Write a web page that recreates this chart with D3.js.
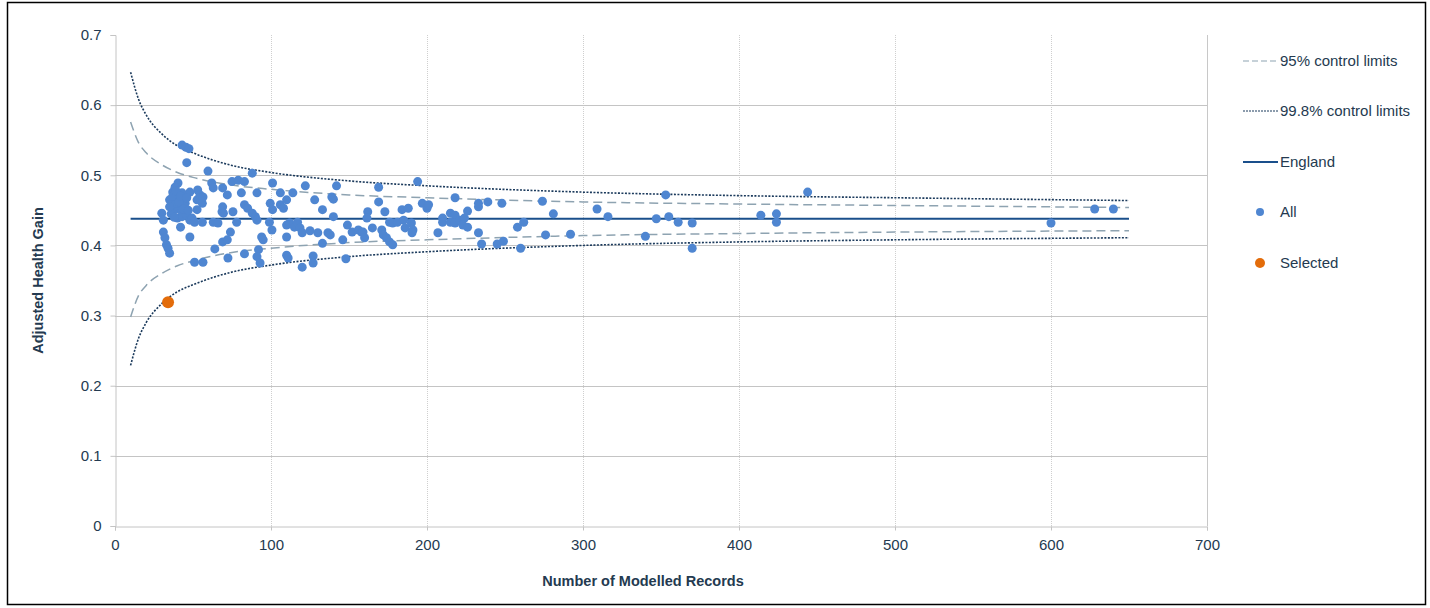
<!DOCTYPE html>
<html>
<head>
<meta charset="utf-8">
<script src="https://cdn.jsdelivr.net/npm/d3@7"></script>
<style>
  body { margin: 0; background: #fff; }
  text { font-family: "Liberation Sans", Arial, sans-serif; }
</style>
</head>
<body>
<script>

// Funnel plot data
var xTicks = [0, 100, 200, 300, 400, 500, 600, 700];
var yTicks = [0, 0.1, 0.2, 0.3, 0.4, 0.5, 0.6, 0.7];

var englandValue = 0.438;
var limitRecords = [10, 15, 20, 30, 40, 50, 75, 100, 150, 200, 300, 400, 500, 650];
var upper998 = [0.647, 0.609, 0.586, 0.559, 0.542, 0.532, 0.514, 0.504, 0.492, 0.485, 0.476, 0.471, 0.468, 0.464];
var upper95  = [0.576, 0.547, 0.532, 0.515, 0.504, 0.497, 0.486, 0.480, 0.472, 0.468, 0.462, 0.459, 0.457, 0.454];
var lower95  = [0.298, 0.328, 0.343, 0.360, 0.371, 0.378, 0.390, 0.396, 0.404, 0.408, 0.414, 0.417, 0.419, 0.421];
var lower998 = [0.229, 0.267, 0.290, 0.317, 0.334, 0.344, 0.362, 0.372, 0.384, 0.391, 0.400, 0.405, 0.408, 0.411];

// [records, adjusted health gain]
var allPoints = [
  [30, 0.446], [31, 0.436], [31, 0.419], [32, 0.411], [33, 0.401], [34, 0.396], [35, 0.389],
  [35, 0.465], [36.5, 0.453], [37, 0.476], [38.5, 0.451], [40, 0.469], [40, 0.439], [40.4, 0.489],
  [40.4, 0.455], [42, 0.426], [43, 0.475], [43, 0.448], [43, 0.441], [43, 0.543], [45.5, 0.540],
  [47.4, 0.538], [46, 0.518], [46, 0.443], [48, 0.476], [48, 0.412], [48, 0.436], [49.4, 0.439],
  [38.5, 0.483], [41.7, 0.465], [45, 0.460], [39, 0.460], [36, 0.445], [37, 0.470], [39, 0.478],
  [41, 0.462], [44, 0.452], [38, 0.440], [42, 0.470], [35, 0.455], [46, 0.468], [47, 0.450],
  [51, 0.433], [51, 0.376], [52.6, 0.465], [52.6, 0.451], [53, 0.479], [54.5, 0.472], [56, 0.460],
  [56, 0.433], [56.4, 0.469], [56.4, 0.376], [59.6, 0.506], [62, 0.489], [63, 0.482], [63, 0.433],
  [64, 0.395], [66, 0.432], [68.6, 0.448], [69, 0.482], [69, 0.455], [69.5, 0.446], [69, 0.405],
  [72, 0.472], [72, 0.408], [72.4, 0.382], [74, 0.419], [75.6, 0.448], [75, 0.491], [79, 0.493],
  [83, 0.491], [78, 0.433], [81, 0.475], [83, 0.458], [83, 0.388], [85, 0.453], [88, 0.503],
  [88, 0.446], [90, 0.441], [91, 0.475], [91, 0.436], [92, 0.394], [91, 0.384], [93, 0.375],
  [94, 0.412], [95, 0.408], [99, 0.433],
  [101, 0.489], [101, 0.451], [99.5, 0.460], [106, 0.458], [108, 0.453], [100.6, 0.422], [106, 0.475],
  [114, 0.475], [110, 0.465], [110, 0.429], [112, 0.432], [115, 0.426], [117, 0.433], [118.6, 0.425],
  [120, 0.418], [110, 0.412], [110, 0.386], [111, 0.382], [120, 0.369], [122, 0.485], [128, 0.465],
  [133, 0.451], [125, 0.421], [130, 0.418], [136.5, 0.418], [138, 0.415], [133, 0.403], [127, 0.385],
  [127, 0.375], [139, 0.469], [140, 0.466], [140, 0.441], [142, 0.485], [146, 0.408], [148, 0.381],
  [149, 0.429], [152, 0.419], [156, 0.422],
  [158, 0.419], [159, 0.419], [160, 0.411], [165, 0.425], [162, 0.448], [161.5, 0.439], [169, 0.483],
  [169, 0.462], [171, 0.422], [172, 0.415], [174, 0.411], [176, 0.405], [178, 0.401], [173, 0.448],
  [176, 0.433], [178, 0.432], [181, 0.433], [185, 0.436], [186, 0.425], [184, 0.451], [188, 0.453],
  [190, 0.432], [191, 0.422], [190.4, 0.418], [194, 0.491], [197, 0.460], [200, 0.453], [201, 0.458],
  [207, 0.418], [210, 0.439], [210, 0.433],
  [215, 0.446], [218, 0.443], [215, 0.433], [218, 0.432], [221, 0.436], [224, 0.439], [223, 0.429],
  [226, 0.426], [226, 0.449], [218, 0.468], [233, 0.455], [233, 0.460], [239, 0.462], [248, 0.460],
  [233, 0.418], [235, 0.402], [245, 0.402], [249, 0.406], [258, 0.426], [262, 0.433], [260, 0.396],
  [274, 0.463], [276, 0.415], [281, 0.445],
  [292, 0.416], [309, 0.452], [316, 0.441], [340, 0.413], [347, 0.438], [353, 0.472], [355, 0.441],
  [361, 0.433], [370, 0.432], [370, 0.396], [414, 0.443], [424, 0.445], [424, 0.433], [444, 0.476],
  [600, 0.432], [628, 0.452], [640, 0.452]
];
var selectedPoints = [[34, 0.319]];

var legendLabels = ["95% control limits", "99.8% control limits", "England", "All", "Selected"];

var textColor = "#243a50";
var pointColor = "#4f86d1";
var selectedColor = "#e36c0a";
var englandColor = "#1a4f8b";
var limit95Color = "#8ea3b1";
var limit998Color = "#1b3a5c";

function showFunnel() {

  var width = 1430, height = 608;
  var plot = {left: 115, right: 1207, top: 35, bottom: 526};

  var svg = d3.select("body").append("svg")
      .attr("width", width)
      .attr("height", height);

  // outer frame
  svg.append("rect")
      .attr("x", 7.5).attr("y", 2.5)
      .attr("width", 1418).attr("height", 602)
      .attr("fill", "none")
      .attr("stroke", "#000")
      .attr("stroke-width", 1.5);

  var xScale = d3.scaleLinear().domain([0, 700]).range([plot.left, plot.right]);
  var yScale = d3.scaleLinear().domain([0, 0.7]).range([plot.bottom, plot.top]);

  // vertical gridlines (dotted)
  svg.append("g")
      .selectAll("line")
      .data(xTicks.slice(1, xTicks.length - 1))
      .enter().append("line")
      .attr("x1", function(d) { return xScale(d) + 0.5; })
      .attr("x2", function(d) { return xScale(d) + 0.5; })
      .attr("y1", plot.top)
      .attr("y2", plot.bottom)
      .attr("stroke", "#cfcfcf")
      .attr("stroke-dasharray", "1,1");

  // horizontal gridlines
  svg.append("g")
      .selectAll("line")
      .data(yTicks.slice(1, yTicks.length - 1))
      .enter().append("line")
      .attr("x1", plot.left)
      .attr("x2", plot.right)
      .attr("y1", function(d) { return Math.round(yScale(d)) + 0.5; })
      .attr("y2", function(d) { return Math.round(yScale(d)) + 0.5; })
      .attr("stroke", "#c4c4c4");

  // right border of plot area
  svg.append("line")
      .attr("x1", plot.right + 0.5).attr("x2", plot.right + 0.5)
      .attr("y1", plot.top).attr("y2", plot.bottom)
      .attr("stroke", "#c8c8c8");

  // Axes
  var xAxis = d3.axisBottom(xScale).tickValues(xTicks).tickSize(4).tickPadding(9)
      .tickFormat(d3.format("d"));
  var gx = svg.append("g")
      .attr("transform", "translate(0," + (plot.bottom + 0.5) + ")")
      .call(xAxis);

  var yAxis = d3.axisLeft(yScale).tickValues(yTicks).tickSize(5).tickPadding(9)
      .tickFormat(function(d) { return d === 0 ? "0" : d3.format(".1f")(d); });
  var gy = svg.append("g")
      .attr("transform", "translate(" + (plot.left + 0.5) + ",0)")
      .call(yAxis);

  [gx, gy].forEach(function(g) {
    g.select(".domain").attr("stroke", "#c4c4c4");
    g.selectAll(".tick line").attr("stroke", "#c4c4c4");
    g.selectAll(".tick text")
        .attr("fill", textColor)
        .attr("font-size", 15)
        .attr("font-family", "Liberation Sans, Arial, sans-serif");
  });

  // axis titles
  svg.append("text")
      .attr("transform", "translate(43," + (plot.top + plot.bottom) / 2 + ") rotate(-90)")
      .attr("text-anchor", "middle")
      .attr("font-size", 14.5)
      .attr("font-weight", "bold")
      .attr("fill", textColor)
      .text("Adjusted Health Gain");

  svg.append("text")
      .attr("x", 643)
      .attr("y", 586)
      .attr("text-anchor", "middle")
      .attr("font-size", 14.5)
      .attr("font-weight", "bold")
      .attr("fill", textColor)
      .text("Number of Modelled Records");

  // control limit curves
  var line = d3.line()
      .x(function(d) { return xScale(d[0]); })
      .y(function(d) { return yScale(d[1]); })
      .curve(d3.curveMonotoneX);

  function pairUp(values) {
    return limitRecords.map(function(n, i) { return [n, values[i]]; });
  }

  [upper95, lower95].forEach(function(vals) {
    svg.append("path")
        .datum(pairUp(vals))
        .attr("d", line)
        .attr("fill", "none")
        .attr("stroke", limit95Color)
        .attr("stroke-width", 1.5)
        .attr("stroke-dasharray", "9,5");
  });

  [upper998, lower998].forEach(function(vals) {
    svg.append("path")
        .datum(pairUp(vals))
        .attr("d", line)
        .attr("fill", "none")
        .attr("stroke", limit998Color)
        .attr("stroke-width", 1.6)
        .attr("stroke-dasharray", "2,1.5");
  });

  // England average
  svg.append("path")
      .datum([[limitRecords[0], englandValue], [limitRecords[limitRecords.length - 1], englandValue]])
      .attr("d", line)
      .attr("fill", "none")
      .attr("stroke", englandColor)
      .attr("stroke-width", 2);

  // all providers
  svg.append("g")
      .selectAll("circle")
      .data(allPoints)
      .enter().append("circle")
      .attr("cx", function(d) { return xScale(d[0]); })
      .attr("cy", function(d) { return yScale(d[1]); })
      .attr("r", 4.5)
      .attr("fill", pointColor);

  svg.append("g")
      .selectAll("circle")
      .data(selectedPoints)
      .enter().append("circle")
      .attr("cx", function(d) { return xScale(d[0]); })
      .attr("cy", function(d) { return yScale(d[1]); })
      .attr("r", 6)
      .attr("fill", selectedColor);

  // Legend
  var legend = svg.append("g").attr("transform", "translate(1243,0)");
  var legendY = [61, 111, 162, 212, 263];

  legendLabels.forEach(function(label, i) {
    var y = legendY[i];
    if (i === 0) {
      legend.append("line").attr("x1", 0).attr("x2", 35).attr("y1", y).attr("y2", y)
          .attr("stroke", limit95Color).attr("stroke-width", 1.2).attr("stroke-dasharray", "6,3");
    } else if (i === 1) {
      legend.append("line").attr("x1", 0).attr("x2", 35).attr("y1", y).attr("y2", y)
          .attr("stroke", limit998Color).attr("stroke-width", 1.2).attr("stroke-dasharray", "2,1");
    } else if (i === 2) {
      legend.append("line").attr("x1", 0).attr("x2", 35).attr("y1", y).attr("y2", y)
          .attr("stroke", englandColor).attr("stroke-width", 2);
    } else {
      legend.append("circle").attr("cx", 17).attr("cy", y).attr("r", i === 3 ? 4 : 5)
          .attr("fill", i === 3 ? pointColor : selectedColor);
    }
    legend.append("text")
        .attr("x", 37)
        .attr("y", y + 5)
        .attr("font-size", 15)
        .attr("fill", textColor)
        .text(label);
  });
}

showFunnel();
</script>
</body>
</html>
